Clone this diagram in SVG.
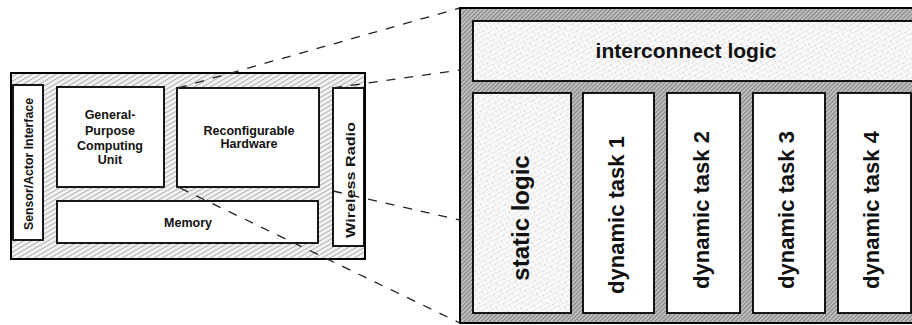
<svg xmlns="http://www.w3.org/2000/svg" width="912" height="325" viewBox="0 0 912 325">
<defs>
<pattern id="pLight" width="4" height="4" patternUnits="userSpaceOnUse" patternTransform="rotate(60)">
<rect width="4" height="4" fill="#f2f2f2"/>
<line x1="0" y1="0" x2="0" y2="4" stroke="#7a7a7a" stroke-width="1.1"/>
</pattern>
<pattern id="pDark" width="3" height="3" patternUnits="userSpaceOnUse" patternTransform="rotate(45)">
<rect width="3" height="3" fill="#bdbdbd"/>
<line x1="0" y1="0" x2="0" y2="3" stroke="#4a4a4a" stroke-width="1"/>
</pattern>
<pattern id="pDots" width="6" height="6" patternUnits="userSpaceOnUse" patternTransform="rotate(15)">
<rect width="6" height="6" fill="#fafafa"/>
<circle cx="1" cy="1" r="0.6" fill="#8a8a8a"/>
<circle cx="4" cy="3" r="0.5" fill="#a0a0a0"/>
<circle cx="2" cy="5" r="0.4" fill="#b0b0b0"/>
</pattern>
</defs>
<style>
.box{fill:#fff;stroke:#000;stroke-width:1.8}
.dots{fill:url(#pDots);stroke:#000;stroke-width:1.8}
.lbl{font-family:"Liberation Sans",Arial,sans-serif;font-weight:bold;fill:#111;text-anchor:middle}
.s12{font-size:12.5px}
.big{font-size:22px}
.conn{fill:none;stroke:#222;stroke-width:1.3;stroke-dasharray:9 9}
</style>

<g id="node-system">
<rect x="11" y="73" width="354" height="186" fill="url(#pLight)" stroke="#000" stroke-width="2"/>
</g>
<g id="node-sensor">
<rect class="box" x="13" y="85" width="30" height="155"/>
<text class="lbl s12" transform="translate(28,164) rotate(-90)" y="4.5" textLength="132" lengthAdjust="spacingAndGlyphs">Sensor/Actor Interface</text>
</g>
<g id="node-gpcu">
<rect class="box" x="57" y="87" width="107" height="100"/>
<text class="lbl s12" x="110" y="119">General-</text>
<text class="lbl s12" x="110" y="135">Purpose</text>
<text class="lbl s12" x="110" y="150">Computing</text>
<text class="lbl s12" x="110" y="164">Unit</text>
</g>
<g id="node-rh">
<rect class="box" x="177" y="88" width="142" height="99"/>
<text class="lbl s12" x="249" y="135">Reconfigurable</text>
<text class="lbl s12" x="249" y="148">Hardware</text>
</g>
<g id="node-radio">
<rect class="box" x="333" y="88" width="31" height="158"/>
<text class="lbl" style="font-size:13px" transform="translate(350,180) rotate(-90)" y="5" textLength="116" lengthAdjust="spacingAndGlyphs">Wireless Radio</text>
</g>
<g id="node-memory">
<rect class="box" x="57" y="201" width="261" height="42"/>
<text class="lbl s12" x="188" y="227">Memory</text>
</g>

<g id="node-fpga">
<rect x="460" y="8" width="470" height="315" fill="url(#pDark)" stroke="#000" stroke-width="2"/>
</g>
<g id="node-interconnect">
<rect class="dots" x="473" y="21" width="440" height="60"/>
<text class="lbl" style="font-size:21px" x="686" y="58">interconnect logic</text>
</g>
<g id="node-static">
<rect class="dots" x="473" y="93" width="98" height="220"/>
<text class="lbl" style="font-size:24px" transform="translate(522,218) rotate(-90)" y="6.5">static logic</text>
</g>
<g id="node-task1">
<rect class="box" x="583" y="93" width="71" height="220"/>
<text class="lbl big" transform="translate(618,215) rotate(-90)" y="6">dynamic task 1</text>
</g>
<g id="node-task2">
<rect class="box" x="667" y="93" width="73" height="220"/>
<text class="lbl big" transform="translate(703,210) rotate(-90)" y="6">dynamic task 2</text>
</g>
<g id="node-task3">
<rect class="box" x="753" y="93" width="72" height="220"/>
<text class="lbl big" transform="translate(788,210) rotate(-90)" y="6">dynamic task 3</text>
</g>
<g id="node-task4">
<rect class="box" x="838" y="93" width="73" height="220"/>
<text class="lbl big" transform="translate(873,210) rotate(-90)" y="6">dynamic task 4</text>
</g>

<g id="connectors">
<line class="conn" x1="178" y1="88" x2="460" y2="8"/>
<line class="conn" x1="333" y1="88" x2="460" y2="70"/>
<line class="conn" x1="333" y1="191" x2="460" y2="220"/>
<line class="conn" x1="180" y1="188" x2="460" y2="323"/>
</g>
</svg>
